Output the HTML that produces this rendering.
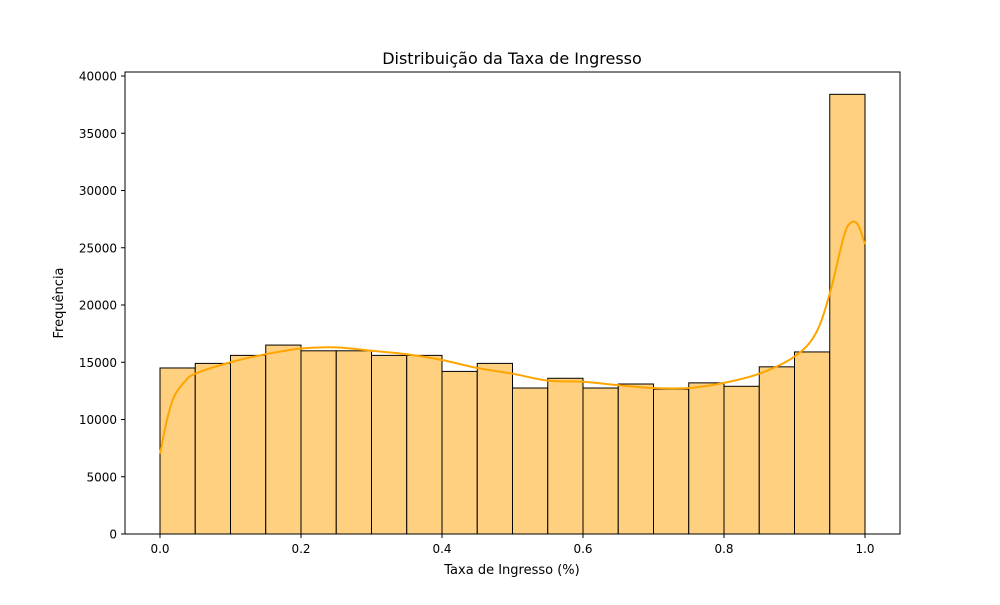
<!DOCTYPE html>
<html><head><meta charset="utf-8"><style>
body{margin:0;background:#fff;font-family:"Liberation Sans","DejaVu Sans",sans-serif}
svg text{font-family:"DejaVu Sans","Liberation Sans",sans-serif;fill:#000}
</style></head><body>
<svg id="chart" width="1000" height="600">
<rect width="1000" height="600" fill="#fff"/>
<text x="512" y="64" font-size="16" text-anchor="middle">Distribuição da Taxa de Ingresso</text>
<g id="bars"></g>
<path id="kde" fill="none" stroke="#ffa500" stroke-width="2"/>
<rect x="125" y="72" width="775" height="462" fill="none" stroke="#000" stroke-width="1"/>
<g id="xticks"></g>
<g id="yticks"></g>
<text x="512" y="574" font-size="13" text-anchor="middle">Taxa de Ingresso (%)</text>
<text transform="translate(63,303) rotate(-90)" font-size="13" text-anchor="middle">Frequência</text>
</svg>
<script>
const counts=[14500,14900,15600,16500,16000,16000,15600,15600,14200,14900,12750,13600,12750,13100,12650,13200,12900,14600,15900,38400];
const kdeX=[0,0.01,0.02,0.035,0.05,0.1,0.15,0.2,0.25,0.3,0.35,0.4,0.45,0.5,0.55,0.6,0.65,0.7,0.75,0.8,0.85,0.9,0.93,0.95,0.97,0.98,0.99,1.0];
const kdeY=[7000,10000,12000,13300,14000,15000,15700,16200,16300,16000,15700,15200,14500,14000,13400,13300,13000,12750,12750,13200,14000,15500,17500,21000,26000,27200,27000,25300];
const xTicks=[0,0.2,0.4,0.6,0.8,1.0];
const yTicks=[0,5000,10000,15000,20000,25000,30000,35000,40000];
const NS="http://www.w3.org/2000/svg";
const xs=v=>160+v*705, ys=v=>534-v*0.01145;
const bg=document.getElementById('bars');
counts.forEach((c,i)=>{const r=document.createElementNS(NS,'rect');
r.setAttribute('x',xs(i*0.05));r.setAttribute('width',xs(0.05)-xs(0));
r.setAttribute('y',ys(c));r.setAttribute('height',ys(0)-ys(c));
r.setAttribute('fill','#ffd080');r.setAttribute('stroke','#000');r.setAttribute('stroke-width','1');


bg.appendChild(r);});
const P=kdeX.map((x,i)=>[xs(x),ys(kdeY[i])]);
let d='M'+P[0][0]+','+P[0][1];
for(let i=0;i<P.length-1;i++){const p0=P[Math.max(i-1,0)],p1=P[i],p2=P[i+1],p3=P[Math.min(i+2,P.length-1)];
d+='C'+(p1[0]+(p2[0]-p0[0])/6)+','+(p1[1]+(p2[1]-p0[1])/6)+' '+(p2[0]-(p3[0]-p1[0])/6)+','+(p2[1]-(p3[1]-p1[1])/6)+' '+p2[0]+','+p2[1];}
document.getElementById('kde').setAttribute('d',d);
const xg=document.getElementById('xticks');
xTicks.forEach(t=>{const l=document.createElementNS(NS,'line');l.setAttribute('x1',xs(t));l.setAttribute('x2',xs(t));l.setAttribute('y1',534);l.setAttribute('y2',538);l.setAttribute('stroke','#000');


xg.appendChild(l);
const tx=document.createElementNS(NS,'text');tx.setAttribute('x',xs(t));tx.setAttribute('y',553);tx.setAttribute('font-size','12');tx.setAttribute('text-anchor','middle');tx.textContent=t.toFixed(1);


xg.appendChild(tx);});
const yg=document.getElementById('yticks');
yTicks.forEach(t=>{const l=document.createElementNS(NS,'line');l.setAttribute('x1',121);l.setAttribute('x2',125);l.setAttribute('y1',ys(t));l.setAttribute('y2',ys(t));l.setAttribute('stroke','#000');


yg.appendChild(l);
const tx=document.createElementNS(NS,'text');tx.setAttribute('x',117);tx.setAttribute('y',ys(t)+4.5);tx.setAttribute('font-size','12');tx.setAttribute('text-anchor','end');tx.textContent=t;


yg.appendChild(tx);});
</script>
</body></html>
